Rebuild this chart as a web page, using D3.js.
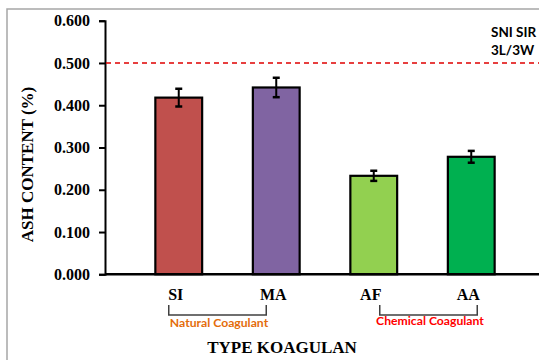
<!DOCTYPE html>
<html>
<head>
<meta charset="utf-8">
<script src="https://cdn.jsdelivr.net/npm/d3@7"></script>
<style>
  body { margin: 0; background: #fff; }
  svg { display: block; }
</style>
</head>
<body>
<div id="canvas"></div>
<script>
// data
const categories = ["SI", "MA", "AF", "AA"];
const ashValues = [0.418, 0.442, 0.233, 0.278];
const ashErrors = [0.021, 0.023, 0.012, 0.014];
const barColors = ["#c0504d", "#8064a2", "#92d050", "#00b050"];
const yTicks = [0, 0.1, 0.2, 0.3, 0.4, 0.5, 0.6];
const sniLimit = 0.5;
const sniLabel = ["SNI SIR", "3L/3W"];
const groups = [
  { name: "Natural Coagulant", from: "SI", to: "MA", color: "#e46c0a" },
  { name: "Chemical Coagulant", from: "AF", to: "AA", color: "#ff0000" }
];

const width = 539;
const height = 360;

const svg = d3.select("#canvas").append("svg")
  .attr("width", width)
  .attr("height", height);

// outer frame (cut off on the right and bottom)
svg.append("rect")
  .attr("x", 7).attr("y", 9)
  .attr("width", 600).attr("height", 400)
  .attr("fill", "none")
  .attr("stroke", "#a6a6a6")
  .attr("stroke-width", 1.5);

const y = d3.scaleLinear().domain([0, 0.6]).range([274.3, 20.7]);
const x = d3.scaleBand()
  .domain(categories)
  .range([130, 520])
  .paddingInner(0.52)
  .paddingOuter(0.26);

const axisX0 = 105;
const serif = "'Liberation Serif', 'Times New Roman', serif";
const sans = "Lato, 'Open Sans', sans-serif";

// y axis
const yAxis = svg.append("g")
  .attr("transform", `translate(${axisX0},0)`)
  .call(d3.axisLeft(y).tickValues(yTicks).tickFormat(d3.format(".3f")).tickSize(6).tickPadding(9));
yAxis.select(".domain").attr("stroke", "#000").attr("stroke-width", 2);
yAxis.selectAll(".tick line").attr("stroke", "#000").attr("stroke-width", 2);
yAxis.selectAll(".tick text")
  .attr("fill", "#000")
  .style("font-family", serif)
  .style("font-weight", "bold")
  .style("font-size", "16px");

// bars
svg.selectAll("rect.bar")
  .data(categories)
  .enter()
  .append("rect")
  .attr("class", "bar")
  .attr("x", (d) => x(d))
  .attr("y", (d, i) => y(ashValues[i]))
  .attr("width", x.bandwidth())
  .attr("height", (d, i) => y(0) - y(ashValues[i]))
  .attr("fill", (d, i) => barColors[i])
  .attr("stroke", "#000")
  .attr("stroke-width", 2.2);

// x axis line
svg.append("line")
  .attr("x1", axisX0).attr("x2", width)
  .attr("y1", y(0)).attr("y2", y(0))
  .attr("stroke", "#000")
  .attr("stroke-width", 2.5);

// error bars
const err = svg.append("g").attr("stroke", "#000");
categories.forEach((c, i) => {
  const cx = x(c) + x.bandwidth() / 2;
  const top = y(ashValues[i] + ashErrors[i]);
  const bot = y(ashValues[i] - ashErrors[i]);
  err.append("line").attr("x1", cx).attr("x2", cx).attr("y1", top).attr("y2", bot).attr("stroke-width", 2);
  err.append("line").attr("x1", cx - 3.5).attr("x2", cx + 3.5).attr("y1", top).attr("y2", top).attr("stroke-width", 2.5);
  err.append("line").attr("x1", cx - 3.5).attr("x2", cx + 3.5).attr("y1", bot).attr("y2", bot).attr("stroke-width", 2.5);
});

// SNI limit
svg.append("line")
  .attr("x1", axisX0 + 1).attr("x2", width)
  .attr("y1", y(sniLimit)).attr("y2", y(sniLimit))
  .attr("stroke", "#e00000")
  .attr("stroke-width", 1.5)
  .attr("stroke-dasharray", "5,4");

svg.append("text")
  .attr("x", 491)
  .attr("y", 37)
  .style("font-family", sans)
  .style("font-weight", "bold")
  .style("font-size", "13.5px")
  .selectAll("tspan")
  .data(sniLabel)
  .enter()
  .append("tspan")
  .attr("x", 491)
  .attr("dy", (d, i) => (i === 0 ? 0 : 18))
  .text((d) => d);

// category labels
svg.selectAll("text.cat")
  .data(categories)
  .enter()
  .append("text")
  .attr("class", "cat")
  .attr("x", (d) => x(d) + x.bandwidth() / 2 - 3)
  .attr("y", 300)
  .attr("text-anchor", "middle")
  .style("font-family", serif)
  .style("font-weight", "bold")
  .style("font-size", "16px")
  .text((d) => d);

// group brackets
const offsets = { "Natural Coagulant": -10, "Chemical Coagulant": 6 };
groups.forEach((g) => {
  const off = offsets[g.name];
  const x1 = x(g.from) + x.bandwidth() / 2 + off;
  const x2 = x(g.to) + x.bandwidth() / 2 + off;
  svg.append("path")
    .attr("d", `M${x1},305V315H${x2}V305`)
    .attr("fill", "none")
    .attr("stroke", "#404040")
    .attr("stroke-width", 1.5);
  svg.append("text")
    .attr("x", (x1 + x2) / 2 + 1.5)
    .attr("y", g.name === "Natural Coagulant" ? 327 : 325)
    .attr("text-anchor", "middle")
    .attr("fill", g.color)
    .style("font-family", sans)
    .style("font-weight", "bold")
    .style("font-size", "12.2px")
    .text(g.name);
});

// axis titles
svg.append("text")
  .attr("x", 282)
  .attr("y", 353)
  .attr("text-anchor", "middle")
  .style("font-family", serif)
  .style("font-weight", "bold")
  .style("font-size", "17px")
  .text("TYPE KOAGULAN");

svg.append("text")
  .attr("transform", "translate(32.5,164.5) rotate(-90)")
  .attr("text-anchor", "middle")
  .style("font-family", serif)
  .style("font-weight", "bold")
  .style("font-size", "17px")
  .text("ASH CONTENT (%)");
</script>
</body>
</html>
